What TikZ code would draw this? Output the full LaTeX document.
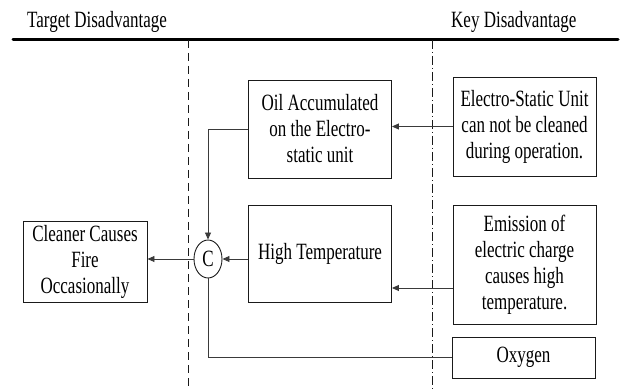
\documentclass[tikz,border=0pt]{standalone}
\usepackage{fontspec}
\setmainfont[FakeStretch=0.73]{Liberation Serif}
\usepackage{tikz}
\usetikzlibrary{arrows.meta,positioning,shapes.geometric,calc}
\definecolor{Ink}{HTML}{1A1A1A}
\definecolor{Wire}{HTML}{3A3A3A}

\begin{document}
\begin{tikzpicture}[
  x=1pt,y=-1pt,
  box/.style={rectangle,draw=Ink,line width=0.9pt,fill=white,align=center,
    inner sep=2pt,font=\fontsize{23.3}{26}\selectfont},
  gate/.style={ellipse,draw=Ink,line width=0.9pt,fill=white,inner sep=0pt,
    minimum width=28pt,minimum height=38pt,font=\fontsize{23.3}{26}\selectfont},
  title/.style={anchor=base west,inner sep=0pt,font=\fontsize{23.3}{26}\selectfont},
  line/.style={draw=Wire,line width=0.9pt},
  arrow/.style={-{Triangle[length=7pt,width=6pt]},draw=Wire,line width=0.9pt},
  divider/.style={draw=Ink,line width=0.8pt,dash pattern=on 8pt off 5pt},
  dotdivider/.style={draw=Ink,line width=0.8pt,dash pattern=on 9pt off 3pt on 1pt off 3pt}
]
\useasboundingbox (0,0) rectangle (621,390);
% header
\node[title] (tgt) at (27,28) {Target Disadvantage};
\node[title] (key) at (451,28) {Key Disadvantage};
\draw[line width=3pt,line cap=round] (13,40) -- (618,40);
\draw[divider] (188,40) -- (188,390);
\draw[dotdivider] (432,40) -- (432,390);
% boxes
\node[box,minimum width=143pt,minimum height=98pt] (oil) at (320,129)
  {Oil Accumulated\\on the Electro-\\static unit};
\node[box,minimum width=143pt,minimum height=97pt] (heat) at (320,253.5)
  {High Temperature};
\node[box,minimum width=124pt,minimum height=81pt] (fire) at (85,261.5)
  {Cleaner Causes\\Fire\\Occasionally};
\node[gate] (cgate) at (208,259) {C};
\node[box,minimum width=143pt,minimum height=99pt] (esu) at (524.5,126.5)
  {Electro-Static Unit\\can not be cleaned\\during operation.};
\node[box,minimum width=143pt,minimum height=119pt] (emis) at (524.5,264.5)
  {Emission of\\electric charge\\causes high\\temperature.};
\node[box,minimum width=143pt,minimum height=41pt] (oxy) at (523.5,357.5)
  {Oxygen};
\coordinate (emisout) at (453,288);
% connectors
\draw[arrow] (esu.west) -- (esu.west -| oil.east);
\draw[arrow] (emisout) -- (emisout -| heat.east);
\draw[arrow] (heat.west |- cgate) -- (cgate.east);
\draw[arrow] (cgate.west) -- (fire.east |- cgate);
\draw[arrow] (oil.west) -| (cgate.north);
\draw[line] (cgate.south) |- (oxy.west);
\end{tikzpicture}
\end{document}
